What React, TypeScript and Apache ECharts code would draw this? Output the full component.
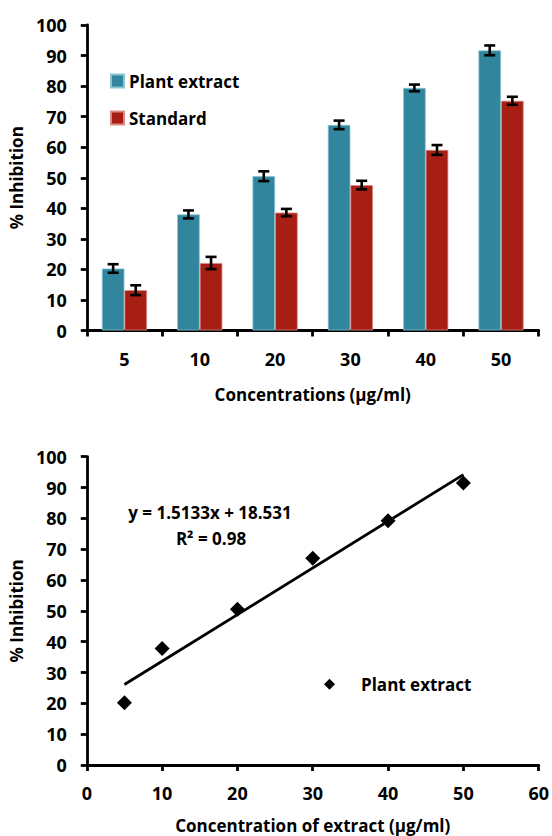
import React, { useEffect, useRef } from "react";
import * as echarts from "echarts";

const categories = ["5", "10", "20", "30", "40", "50"];
const plantValues = [20.3, 38.0, 50.5, 67.3, 79.4, 91.7];
const standardValues = [13.2, 22.1, 38.6, 47.6, 59.1, 75.2];
const plantErrors = [1.4, 1.3, 1.6, 1.4, 1.1, 1.6];
const standardErrors = [1.6, 2.0, 1.2, 1.4, 1.6, 1.3];

const concentrations = [5, 10, 20, 30, 40, 50];
const scatterValues = [20.2, 37.8, 50.5, 67.1, 79.2, 91.5];
const slope = 1.5133;
const intercept = 18.531;
const trendRange = [5, 50];

const FONT = "'Open Sans', 'Noto Sans', sans-serif";
const TEAL = "#31859C";
const RED = "#A61E14";

function errorBarRenderer(offsetFrac: number) {
  return (params: any, api: any) => {
    const idx = api.value(0);
    const val = api.value(1);
    const err = api.value(2);
    const band = api.size([1, 0])[0];
    const c = api.coord([idx, val]);
    const x = c[0] + offsetFrac * band;
    const hi = api.coord([idx, val + err])[1];
    const lo = api.coord([idx, val - err])[1];
    const hw = 5.5;
    const style = { stroke: "#000", lineWidth: 2.6 };
    return {
      type: "group",
      children: [
        { type: "line", shape: { x1: x, y1: hi, x2: x, y2: lo }, style },
        { type: "line", shape: { x1: x - hw, y1: hi, x2: x + hw, y2: hi }, style },
        { type: "line", shape: { x1: x - hw, y1: lo, x2: x + hw, y2: lo }, style },
      ],
    };
  };
}

export default function App() {
  const ref = useRef<HTMLDivElement>(null);
  useEffect(() => {
    if (!ref.current) return;
    const chart = echarts.init(ref.current, undefined, { renderer: "svg" });
    const axisLine = { show: true, lineStyle: { color: "#000", width: 2.8 } };
    const axisTick = { show: true, length: 6, lineStyle: { color: "#000", width: 2.8 } };
    const tickLabel = { color: "#000", fontFamily: FONT, fontWeight: "bold" as const, fontSize: 18 };
    const nameStyle = { color: "#000", fontFamily: FONT, fontWeight: "bold" as const, fontSize: 17 };

    chart.setOption({
      animation: false,
      backgroundColor: "#fff",
      grid: [
        { left: 72.7, top: 25, width: 466, height: 305.5, containLabel: false },
        { left: 76, top: 456.7, width: 465.7, height: 308.3, containLabel: false },
      ],
      xAxis: [
        {
          type: "category",
          gridIndex: 0,
          data: categories,
          boundaryGap: true,
          axisLine,
          axisTick: { ...axisTick, alignWithLabel: false },
          axisLabel: { ...tickLabel, margin: 19 },
          splitLine: { show: false },
          name: "Concentrations (µg/ml)",
          nameLocation: "middle",
          nameGap: 55,
          nameTextStyle: nameStyle,
        },
        {
          type: "value",
          gridIndex: 1,
          min: 0,
          max: 60,
          interval: 10,
          axisLine,
          axisTick,
          axisLabel: { ...tickLabel, margin: 19 },
          splitLine: { show: false },
          name: "Concentration of extract (µg/ml)",
          nameLocation: "middle",
          nameGap: 52,
          nameTextStyle: nameStyle,
        },
      ],
      yAxis: [
        {
          type: "value",
          gridIndex: 0,
          min: 0,
          max: 100,
          interval: 10,
          axisLine,
          axisTick,
          axisLabel: { ...tickLabel, margin: 20 },
          splitLine: { show: false },
          name: "% Inhibition",
          nameLocation: "middle",
          nameGap: 46,
          nameTextStyle: nameStyle,
        },
        {
          type: "value",
          gridIndex: 1,
          min: 0,
          max: 100,
          interval: 10,
          axisLine,
          axisTick,
          axisLabel: { ...tickLabel, margin: 20 },
          splitLine: { show: false },
          name: "% Inhibition",
          nameLocation: "middle",
          nameGap: 38,
          nameTextStyle: nameStyle,
        },
      ],
      legend: [
        {
          data: ["Plant extract", "Standard"],
          orient: "vertical",
          left: 110,
          top: 72.5,
          padding: 0,
          itemWidth: 13,
          itemHeight: 13,
          itemGap: 20,
          icon: "rect",
          textStyle: { ...nameStyle, lineHeight: 17 },
        },
        {
          data: ["scatterPlant"],
          orient: "vertical",
          left: 324,
          top: 675.8,
          padding: 0,
          itemWidth: 11,
          itemHeight: 11,
          icon: "diamond",
          formatter: () => "Plant extract",
          itemStyle: { color: "#000", opacity: 1 },
          textStyle: { ...nameStyle, lineHeight: 17, padding: [0, 0, 0, 21] },
        },
      ],
      series: [
        {
          name: "Plant extract",
          type: "bar",
          xAxisIndex: 0,
          yAxisIndex: 0,
          data: plantValues,
          barGap: "0%",
          barCategoryGap: "40%",
          itemStyle: { color: TEAL, borderColor: "#8cc4d2", borderWidth: 0.8 },
        },
        {
          name: "Standard",
          type: "bar",
          xAxisIndex: 0,
          yAxisIndex: 0,
          data: standardValues,
          barGap: "0%",
          barCategoryGap: "40%",
          itemStyle: { color: RED, borderColor: "#d88b84", borderWidth: 0.8 },
        },
        {
          name: "plantErr",
          type: "custom",
          xAxisIndex: 0,
          yAxisIndex: 0,
          z: 5,
          silent: true,
          encode: { x: 0, y: 1 },
          data: plantValues.map((v, i) => [i, v, plantErrors[i]]),
          renderItem: errorBarRenderer(-0.15),
        },
        {
          name: "standardErr",
          type: "custom",
          xAxisIndex: 0,
          yAxisIndex: 0,
          z: 5,
          silent: true,
          encode: { x: 0, y: 1 },
          data: standardValues.map((v, i) => [i, v, standardErrors[i]]),
          renderItem: errorBarRenderer(0.15),
        },
        {
          name: "trend",
          type: "line",
          xAxisIndex: 1,
          yAxisIndex: 1,
          symbol: "none",
          data: trendRange.map((x) => [x, slope * x + intercept]),
          lineStyle: { color: "#000", width: 2.8 },
          z: 2,
        },
        {
          name: "scatterPlant",
          type: "scatter",
          xAxisIndex: 1,
          yAxisIndex: 1,
          symbol: "diamond",
          symbolSize: 15,
          data: concentrations.map((x, i) => [x, scatterValues[i]]),
          itemStyle: { color: "#000", opacity: 1 },
          z: 3,
        },
      ],
      graphic: [
        {
          type: "text",
          x: 210,
          y: 512,
          style: {
            text: `y = ${slope}x + ${intercept}`,
            textAlign: "center",
            textVerticalAlign: "middle",
            fill: "#000",
            font: `bold 17px ${FONT}`,
          },
        },
        {
          type: "text",
          x: 211,
          y: 538,
          style: {
            text: "R² = 0.98",
            textAlign: "center",
            textVerticalAlign: "middle",
            fill: "#000",
            font: `bold 17px ${FONT}`,
          },
        },
      ],
    });
    return () => chart.dispose();
  }, []);
  return (
    <div
      ref={ref}
      style={{ position: "fixed", left: 0, top: 0, width: 552, height: 836, background: "#fff" }}
    />
  );
}
